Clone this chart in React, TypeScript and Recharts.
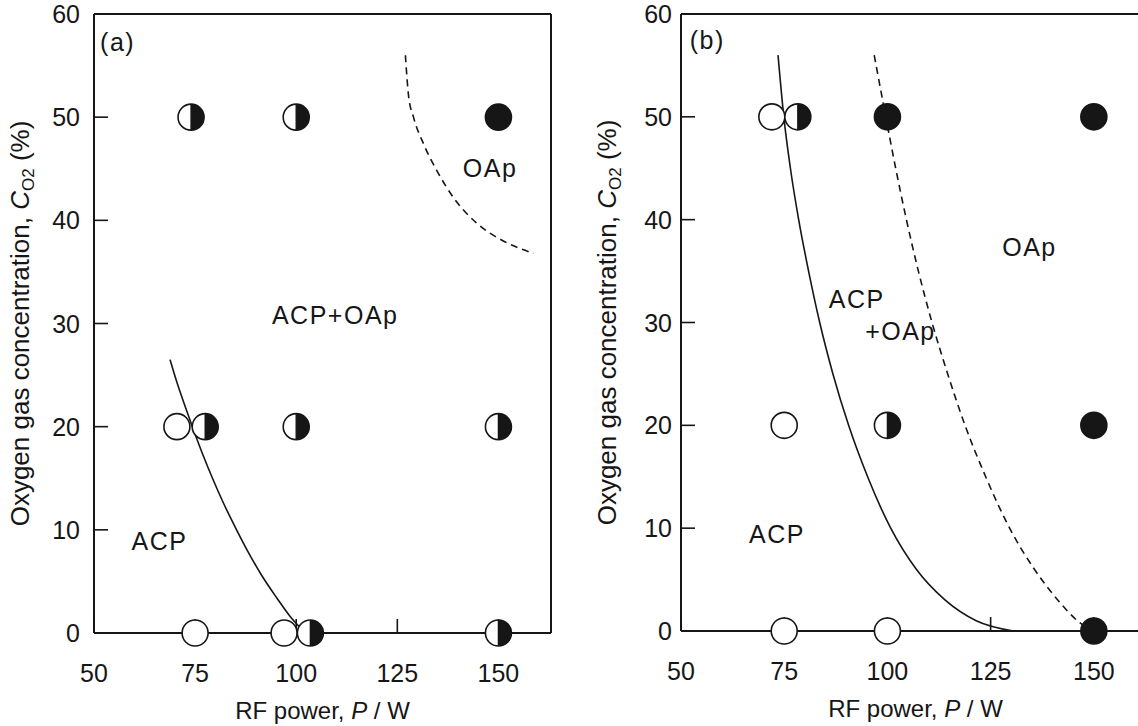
import React from 'react';
import { ComposedChart, Line, Scatter, XAxis, YAxis, ReferenceDot } from 'recharts';

const INK = '#161616';
const FONT = '"Liberation Sans", Arial, Helvetica, sans-serif';
const FS = 25;
const R = 13;
const TICK = 14;

const xTicks = [50, 75, 100, 125, 150];
const yTicks = [0, 10, 20, 30, 40, 50, 60];

// ---- panel (a) ----
const openA = [{ x: 75, y: 0 }, { x: 97, y: 0 }, { x: 70.5, y: 20 }];
const halfA = [
  { x: 103.5, y: 0 }, { x: 150, y: 0 },
  { x: 77.5, y: 20 }, { x: 100, y: 20 }, { x: 150, y: 20 },
  { x: 74, y: 50 }, { x: 100, y: 50 },
];
const filledA = [{ x: 150, y: 50 }];
const solidA = [
  { x: 68.8, y: 26.5 }, { x: 70.5, y: 24.3 }, { x: 72.5, y: 22 }, { x: 74.5, y: 19.8 },
  { x: 76.8, y: 17.4 }, { x: 79.3, y: 15 }, { x: 82, y: 12.6 }, { x: 85, y: 10.2 },
  { x: 88.2, y: 7.8 }, { x: 91.6, y: 5.5 }, { x: 95.2, y: 3.4 }, { x: 98.5, y: 1.6 },
  { x: 101, y: 0.5 },
];
const dashedA = [
  { x: 127, y: 56 }, { x: 127.8, y: 52 }, { x: 129, y: 50 }, { x: 131.5, y: 47.4 },
  { x: 134.8, y: 44.8 }, { x: 138.9, y: 42.2 }, { x: 144.7, y: 39.7 }, { x: 151.2, y: 38 },
  { x: 158.7, y: 36.8 },
];
const labelsA = [
  { x: 51.5, y: 57.3, text: '(a)' },
  { x: 94, y: 30.8, text: 'ACP+OAp' },
  { x: 59.3, y: 8.9, text: 'ACP' },
  { x: 141.2, y: 45.1, text: 'OAp' },
];

// ---- panel (b) ----
const openB = [{ x: 75, y: 0 }, { x: 100, y: 0 }, { x: 75, y: 20 }, { x: 72, y: 50 }];
const halfB = [{ x: 100, y: 20 }, { x: 78.3, y: 50 }];
const filledB = [{ x: 150, y: 0 }, { x: 150, y: 20 }, { x: 100, y: 50 }, { x: 150, y: 50 }];
const solidB = [
  { x: 73.5, y: 56 }, { x: 74.9, y: 50 }, { x: 76.5, y: 45 }, { x: 78.5, y: 40 },
  { x: 80.9, y: 35 }, { x: 83.6, y: 30 }, { x: 86.8, y: 25 }, { x: 90.6, y: 20 },
  { x: 95.2, y: 15 }, { x: 100.8, y: 10 }, { x: 107, y: 6 }, { x: 114, y: 3 },
  { x: 121.5, y: 1 }, { x: 130.5, y: 0 },
];
const dashedB = [
  { x: 96.8, y: 56 }, { x: 99.6, y: 50 }, { x: 102, y: 45 }, { x: 104.6, y: 40 },
  { x: 107.5, y: 35 }, { x: 110.8, y: 30 }, { x: 114.6, y: 25 }, { x: 118.8, y: 20 },
  { x: 123.8, y: 15 }, { x: 129.6, y: 10 }, { x: 135.6, y: 6 }, { x: 141.3, y: 3 },
  { x: 146, y: 1 }, { x: 149.5, y: 0 },
];
const labelsB = [
  { x: 52.1, y: 57.5, text: '(b)' },
  { x: 85.8, y: 32.3, text: 'ACP' },
  { x: 94.6, y: 29.2, text: '+OAp' },
  { x: 66.5, y: 9.4, text: 'ACP' },
  { x: 127.8, y: 37.3, text: 'OAp' },
];

// markers
const OpenDot = (p: any) => (
  <circle cx={p.cx} cy={p.cy} r={R} fill="#fff" stroke={INK} strokeWidth={1.6} />
);
const FilledDot = (p: any) => (
  <circle cx={p.cx} cy={p.cy} r={R} fill={INK} stroke={INK} strokeWidth={1.6} />
);
const HalfDot = (p: any) => {
  const { cx, cy } = p;
  return (
    <g>
      <circle cx={cx} cy={cy} r={R} fill="#fff" />
      <path d={`M${cx},${cy - R} A${R},${R} 0 0 1 ${cx},${cy + R} Z`} fill={INK} />
      <line x1={cx} y1={cy - R} x2={cx} y2={cy + R} stroke={INK} strokeWidth={1.4} />
      <circle cx={cx} cy={cy} r={R} fill="none" stroke={INK} strokeWidth={1.6} />
    </g>
  );
};
const NoDot = () => null;

// ticks (drawn inward, labels outward)
const BottomTick = (p: any) => (
  <g>
    <line x1={p.x} y1={p.y} x2={p.x} y2={p.y - TICK} stroke={INK} strokeWidth={1.6} />
    <text x={p.x} y={p.y + 49} textAnchor="middle" fontSize={FS} fontFamily={FONT} fill={INK}>
      {p.payload.value}
    </text>
  </g>
);
const TopTick = (p: any) => (
  <line x1={p.x} y1={p.y} x2={p.x} y2={p.y + TICK} stroke={INK} strokeWidth={1.6} />
);
const makeLeftTick = (gap: number) => (p: any) => (
  <g>
    {p.payload.value > 0 && p.payload.value < 60 && (
      <line x1={p.x} y1={p.y} x2={p.x + TICK} y2={p.y} stroke={INK} strokeWidth={1.6} />
    )}
    <text x={p.x - gap} y={p.y + 9} textAnchor="end" fontSize={FS} fontFamily={FONT} fill={INK}>
      {p.payload.value}
    </text>
  </g>
);
const makeRightTick = (len: number) => (p: any) =>
  p.payload.value > 0 && p.payload.value < 60 ? (
    <line x1={p.x} y1={p.y} x2={p.x - len} y2={p.y} stroke={INK} strokeWidth={1.6} />
  ) : (
    <g />
  );

const XTitle = (p: any) => {
  const vb = p.viewBox;
  return (
    <text x={vb.x + vb.width / 2} y={vb.y + 86} textAnchor="middle" fontSize={24} fontFamily={FONT} fill={INK}>
      RF power, <tspan fontStyle="italic">P</tspan> / W
    </text>
  );
};
const YTitle = (p: any) => {
  const vb = p.viewBox;
  const cx = vb.x + vb.width - 65;
  const cy = vb.y + vb.height / 2;
  return (
    <text x={cx} y={cy} transform={`rotate(-90, ${cx}, ${cy})`} textAnchor="middle" fontSize={26} fontFamily={FONT} fill={INK}>
      Oxygen gas concentration, <tspan fontStyle="italic">C</tspan>
      <tspan fontSize={17} dy={5}>O2</tspan>
      <tspan dy={-5}> (%)</tspan>
    </text>
  );
};
const AnnoText = (p: any) => (
  <text x={p.viewBox.x} y={p.viewBox.y + 9} fontSize={FS} letterSpacing={1.5} fontFamily={FONT} fill={INK}>
    {p.value}
  </text>
);

interface PanelProps {
  left: number;
  width: number;
  margin: { top: number; right: number; bottom: number; left: number };
  xMax: number;
  gap: number;
  rightTick: number;
  open: any[];
  half: any[];
  filled: any[];
  solid: any[];
  dashed: any[];
  labels: { x: number; y: number; text: string }[];
}

// axis sizes are taken out of the margins so the plot box stays where the reference has it
const AX_W = 40;
const AX_H = 40;

function Panel({ left, width, margin, xMax, gap, rightTick, open, half, filled, solid, dashed, labels }: PanelProps) {
  const LeftTick = makeLeftTick(gap);
  const RightTick = makeRightTick(rightTick);
  const m = {
    top: margin.top - 1,
    right: margin.right - 1,
    bottom: margin.bottom - AX_H,
    left: margin.left - AX_W,
  };
  const layer: React.CSSProperties = { position: 'absolute', left: 0, top: 0 };
  return (
    <div style={{ position: 'absolute', left, top: 0, width, height: 726 }}>
      {/* frame, ticks, titles and boundary curves */}
      <div style={layer}>
        <ComposedChart width={width} height={726} margin={m}>
          <XAxis dataKey="x" type="number" domain={[50, xMax]} ticks={xTicks} interval={0}
            height={AX_H} tickSize={0} tickMargin={0} tick={<BottomTick />}
            axisLine={{ stroke: INK, strokeWidth: 2 }} tickLine={false}
            label={<XTitle />} />
          <XAxis xAxisId="top" orientation="top" type="number" domain={[50, xMax]} ticks={xTicks} interval={0}
            height={1} tickSize={0} tickMargin={0} tick={<TopTick />}
            axisLine={{ stroke: INK, strokeWidth: 2 }} tickLine={false} />
          <YAxis dataKey="y" type="number" domain={[0, 60]} ticks={yTicks} interval={0}
            width={AX_W} tickSize={0} tickMargin={0} tick={<LeftTick />}
            axisLine={{ stroke: INK, strokeWidth: 2 }} tickLine={false}
            label={<YTitle />} />
          <YAxis yAxisId="r" orientation="right" type="number" domain={[0, 60]} ticks={yTicks} interval={0}
            width={1} tickSize={0} tickMargin={0} tick={<RightTick />}
            axisLine={{ stroke: INK, strokeWidth: 2 }} tickLine={false} />
          <Line data={solid} dataKey="y" type="monotone" stroke={INK} strokeWidth={1.6}
            dot={false} activeDot={false} isAnimationActive={false} />
          <Line data={dashed} dataKey="y" type="monotone" stroke={INK} strokeWidth={1.6}
            strokeDasharray="7 5" dot={false} activeDot={false} isAnimationActive={false} />
        </ComposedChart>
      </div>
      {/* markers and region labels sit on top of the frame */}
      <div style={layer}>
        <ComposedChart width={width} height={726} margin={margin}>
          <XAxis dataKey="x" type="number" domain={[50, xMax]} hide />
          <YAxis dataKey="y" type="number" domain={[0, 60]} hide />
          <Scatter data={open} dataKey="y" shape={<OpenDot />} isAnimationActive={false} />
          <Scatter data={half} dataKey="y" shape={<HalfDot />} isAnimationActive={false} />
          <Scatter data={filled} dataKey="y" shape={<FilledDot />} isAnimationActive={false} />
          {labels.map((l) => (
            <ReferenceDot key={l.text + l.x} x={l.x} y={l.y} r={0} ifOverflow="visible"
              fill="none" stroke="none" shape={<NoDot />} label={<AnnoText value={l.text} />} />
          ))}
        </ComposedChart>
      </div>
    </div>
  );
}

export default function App() {
  return (
    <div style={{ position: 'absolute', left: 0, top: 0, width: 1138, height: 726, overflow: 'hidden', background: '#fff' }}>
      <Panel left={0} width={570} margin={{ top: 14, right: 19, bottom: 93, left: 94 }} xMax={163} gap={14}
        rightTick={TICK}
        open={openA} half={halfA} filled={filledA} solid={solidA} dashed={dashedA} labels={labelsA} />
      <Panel left={570} width={600} margin={{ top: 14, right: 20, bottom: 95, left: 111 }} xMax={163.6} gap={9}
        rightTick={20}
        open={openB} half={halfB} filled={filledB} solid={solidB} dashed={dashedB} labels={labelsB} />
    </div>
  );
}
